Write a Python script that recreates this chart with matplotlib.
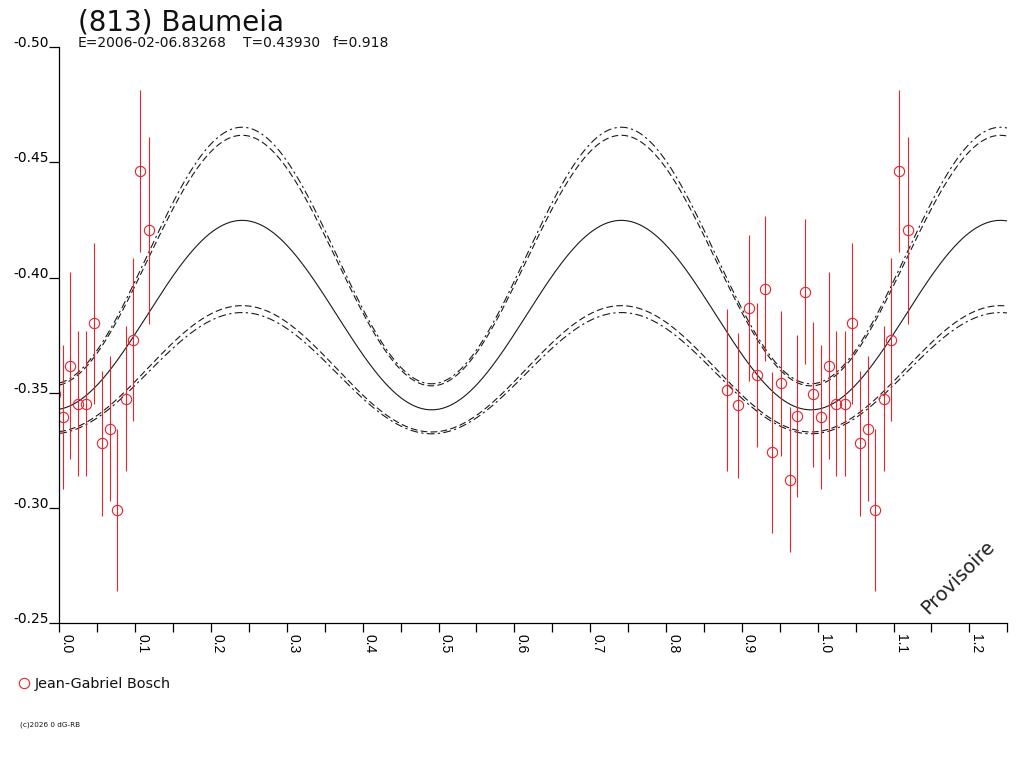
import numpy as np
import matplotlib
matplotlib.use("Agg")
import matplotlib.pyplot as plt
from matplotlib.lines import Line2D

plt.rcParams['font.family'] = ['DejaVu Sans']

# ---------------- data ----------------
title = "(813) Baumeia"
subtitle_parts = ["E=2006-02-06.83268", "T=0.43930", "f=0.918"]
observer = "Jean-Gabriel Bosch"

# observations (phase, reduced magnitude, error)
obs_phase = [0.0045, 0.0145, 0.0243, 0.0356, 0.0454, 0.0563, 0.0669, 0.0757,
             0.0876, 0.0968, 0.1068, 0.1187,
             0.8808, 0.8945, 0.9090, 0.9200, 0.9301, 0.9393, 0.9516, 0.9631,
             0.9731, 0.9837, 0.9942]
obs_mag = [-0.3394, -0.3617, -0.3452, -0.3452, -0.3801, -0.3281, -0.3345, -0.2991,
           -0.3474, -0.3730, -0.4462, -0.4204,
           -0.3512, -0.3445, -0.3868, -0.3576, -0.3952, -0.3242, -0.3541, -0.3123,
           -0.3401, -0.3939, -0.3493]
obs_err = [0.0313, 0.0405, 0.0315, 0.0315, 0.0349, 0.0314, 0.0315, 0.0350,
           0.0314, 0.0353, 0.0351, 0.0404,
           0.0351, 0.0314, 0.0315, 0.0313, 0.0314, 0.0349, 0.0315, 0.0315,
           0.0351, 0.0314, 0.0314]

# fitted light-curve models (2nd harmonic): mean, half-amplitude, phase of maximum
fit_mean = [-0.3837, -0.40955, -0.40735, -0.3604, -0.3585]
fit_amp = [0.0411, 0.05565, 0.05435, 0.0274, 0.0263]
fit_phase_max = [0.241, 0.241, 0.241, 0.241, 0.241]
fit_style = ['solid', 'dashdot', 'dashed', 'dashed', 'dashdot']

x_major_ticks = [0.0, 0.1, 0.2, 0.3, 0.4, 0.5, 0.6, 0.7, 0.8, 0.9, 1.0, 1.1, 1.2]
x_major_labels = ["0.0", "0.1", "0.2", "0.3", "0.4", "0.5", "0.6", "0.7", "0.8",
                  "0.9", "1.0", "1.1", "1.2"]
x_minor_ticks = [0.05, 0.15, 0.25, 0.35, 0.45, 0.55, 0.65, 0.75, 0.85, 0.95,
                 1.05, 1.15, 1.25]
y_ticks = [-0.50, -0.45, -0.40, -0.35, -0.30, -0.25]
y_labels = ["-0.50", "-0.45", "-0.40", "-0.35", "-0.30", "-0.25"]

# ---------------- figure ----------------
W, H = 1024, 768
fig = plt.figure(figsize=(W / 100, H / 100), dpi=100)
ax = fig.add_axes([59.3 / W, 1 - 623.3 / H, (1007.3 - 59.3) / W, (623.3 - 47) / H])

red = '#e8232b'
ink = '#1a1a1a'

# model curves
ph = np.linspace(0, 1.25, 800)
dash_map = {'dashed': (0, (6, 3)), 'dashdot': (0, (7, 3, 2, 3))}
for m, a, p0, st in zip(fit_mean, fit_amp, fit_phase_max, fit_style):
    y = m - a * np.cos(4 * np.pi * (ph - p0))
    if st == 'solid':
        ax.plot(ph, y, color=ink, lw=0.8)
    else:
        ax.plot(ph, y, color=ink, lw=0.8, linestyle=dash_map[st])

# observations, repeated at phase - 1 and phase + 1
obs_phase_a = np.array(obs_phase)
for shift in (-1.0, 0.0, 1.0):
    xx = obs_phase_a + shift
    ax.errorbar(xx, obs_mag, yerr=obs_err, fmt='o', ms=7.4, mfc='none',
                mec=red, mew=0.8, ecolor=red, elinewidth=0.8, capsize=0)

ax.set_xlim(0, 1.25)
ax.set_ylim(-0.25, -0.50)

for s in ('top', 'right'):
    ax.spines[s].set_visible(False)
for s in ('left', 'bottom'):
    ax.spines[s].set_linewidth(0.9)
    ax.spines[s].set_color('black')

ax.set_xticks(x_major_ticks)
ax.set_xticklabels(x_major_labels, rotation=270, ha='left', va='top',
                   family='Liberation Sans')
ax.set_xticks(x_minor_ticks, minor=True)
ax.tick_params(axis='x', which='both', direction='out', length=6.8, width=0.9,
               pad=1, labelsize=10, color='black')
ax.set_yticks(y_ticks)
ax.set_yticklabels(y_labels)
ax.tick_params(axis='y', direction='out', length=7.2, width=0.9, pad=0,
               labelsize=10, color='black')
for lab in ax.get_yticklabels():
    lab.set_verticalalignment('baseline')

# texts
fig.text(78 / W, 1 - 30 / H, title, fontsize=20, va='baseline', ha='left', color='#111111')
for xpos, part in zip([78, 243, 333], subtitle_parts):
    fig.text(xpos / W, 1 - 47 / H, part, fontsize=10, va='baseline', ha='left',
             color='#111111')

# legend
fig.add_artist(Line2D([24 / W], [1 - 683 / H], marker='o', ms=7.4, mfc='none',
                      mec=red, mew=0.8, linestyle='none', transform=fig.transFigure))
fig.text(35 / W, 1 - 688 / H, observer, fontsize=10.4, va='baseline', ha='left',
         color='#111111')

fig.text(20 / W, 1 - 727 / H, "(c)2026 0 dG-RB", fontsize=5.2, va='baseline',
         ha='left', color='#111111')

ax.text(0.948, 0.080, "Provisoire", transform=ax.transAxes, rotation=45,
        fontsize=14, ha='center', va='center', color='#222222')

fig.savefig('out.png', dpi=100)
